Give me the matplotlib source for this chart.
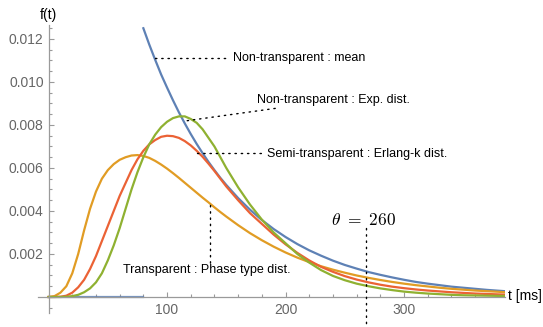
import matplotlib
matplotlib.use('Agg')
import matplotlib.pyplot as plt
from matplotlib.ticker import MultipleLocator, FormatStrFormatter

# ---- data (t in ms, f(t) density) ----
t = [0, 5, 10, 15, 20, 25, 30, 35, 40, 45, 50, 55, 60, 65, 70, 75, 80, 85, 90, 95,
     100, 105, 110, 115, 120, 125, 130, 135, 140, 145, 150,
     160, 170, 180, 190, 200, 210, 220, 230, 240, 250, 260, 270, 280, 290, 300,
     310, 320, 330, 340, 350, 360, 370, 380, 385]

# Transparent : Phase type dist.
phase_type = [0.0, 0.00004, 0.0002, 0.0005, 0.0011, 0.0020, 0.0031, 0.0041, 0.0049,
              0.0055, 0.0059, 0.00618, 0.00638, 0.0065, 0.00658, 0.0066, 0.00656,
              0.00647, 0.00633, 0.00616, 0.00597, 0.00576, 0.00554, 0.00531, 0.00508,
              0.00485, 0.00462, 0.0044, 0.00417, 0.00395, 0.00374,
              0.00334, 0.00297, 0.00264, 0.00234, 0.00207, 0.00183, 0.00162, 0.00143,
              0.00127, 0.00113, 0.0010, 0.00089, 0.00079, 0.0007, 0.00062, 0.00055,
              0.00049, 0.00043, 0.00038, 0.00034, 0.0003, 0.00027, 0.00024, 0.00022]

# Semi-transparent : Erlang-k dist.
erlang = [0.0, 0.0, 0.00001, 0.00006, 0.0002, 0.00045, 0.0008, 0.0013, 0.0019, 0.0026,
          0.0033, 0.0040, 0.0047, 0.0053, 0.0059, 0.0064, 0.0068, 0.0071, 0.0073,
          0.00745, 0.0075, 0.00748, 0.0074, 0.00725, 0.00705, 0.0068, 0.00652, 0.0062,
          0.00586, 0.0055, 0.00514,
          0.0045, 0.0039, 0.0034, 0.0029, 0.00245, 0.00205, 0.0017, 0.0014, 0.00117,
          0.00097, 0.00081, 0.00068, 0.00057, 0.00048, 0.00041, 0.00035, 0.0003,
          0.00026, 0.00022, 0.00019, 0.00016, 0.00014, 0.00012, 0.00011]

# Non-transparent : Exp. dist.
exp_dist = [0.0, 0.0, 0.0, 0.00001, 0.00004, 0.0001, 0.00022, 0.0004, 0.00068, 0.0011,
            0.0017, 0.0024, 0.0032, 0.0041, 0.0050, 0.0058, 0.0065, 0.0071, 0.00755,
            0.0079, 0.00815, 0.00832, 0.0084, 0.0084, 0.00828, 0.0081, 0.0078, 0.0074,
            0.0070, 0.0065, 0.0060,
            0.0051, 0.0043, 0.0036, 0.0030, 0.0025, 0.0020, 0.0016, 0.00125, 0.00098,
            0.00078, 0.00062, 0.0005, 0.0004, 0.00032, 0.00025, 0.0002, 0.00016,
            0.00013, 0.0001, 0.00008, 0.00007, 0.00006, 0.00005, 0.00005]

# Non-transparent : mean (zero up to 80 ms, then decaying)
mean_flat_t = [0, 80]
mean_flat = [0.0, 0.0]
mean_t = [80, 85, 90, 95, 100, 105, 110, 115, 120, 125, 130, 135, 140, 145, 150,
          160, 170, 180, 190, 200, 210, 220, 230, 240, 250, 260, 270, 280, 290, 300,
          310, 320, 330, 340, 350, 360, 370, 380, 385]
mean = [0.0125, 0.01174, 0.01103, 0.01035, 0.00974, 0.00915, 0.00859, 0.00807, 0.00758,
        0.00712, 0.00669, 0.00628, 0.0059, 0.00554, 0.00521,
        0.0046, 0.00406, 0.00358, 0.00316, 0.00279, 0.00246, 0.00217, 0.00192,
        0.00169, 0.00149, 0.00132, 0.00116, 0.00103, 0.00091, 0.0008, 0.0007,
        0.00062, 0.00055, 0.00048, 0.00043, 0.00038, 0.00033, 0.00029, 0.00027]

theta = 268  # position of the theta marker line

BLUE = '#5E81B5'
ORANGE = '#E19C24'
GREEN = '#8FB131'
RED = '#EB6235'


def dotted(ax, xs, ys, clip=True):
    ax.plot(xs, ys, color='black', lw=1.0, linestyle=(0, (1, 3.5)),
            dash_capstyle='round', clip_on=clip, zorder=3)


def main():
    plt.rcParams['font.family'] = ['Liberation Sans', 'DejaVu Sans']
    plt.rcParams['mathtext.fontset'] = 'cm'

    fig = plt.figure(figsize=(5.43, 3.27), dpi=100)
    ax = fig.add_axes([0.0709, 0.0425, 0.8586, 0.881])
    ax.set_xlim(-8.5, 385)
    ax.set_ylim(-0.00075, 0.01265)

    lw = 1.6
    ax.plot(mean_flat_t, mean_flat, color=BLUE, lw=lw, alpha=0.85)
    ax.plot(mean_t, mean, color=BLUE, lw=lw)
    ax.plot(t, phase_type, color=ORANGE, lw=lw)
    ax.plot(t, erlang, color=RED, lw=lw)
    ax.plot(t, exp_dist, color=GREEN, lw=lw)

    # Mathematica-like axes through the origin
    for side in ['top', 'right']:
        ax.spines[side].set_visible(False)
    ax.spines['left'].set_position(('data', 0))
    ax.spines['bottom'].set_position(('data', 0))
    for side in ['left', 'bottom']:
        ax.spines[side].set_color('#9a9a9a')
        ax.spines[side].set_linewidth(0.9)

    ax.set_xticks([100, 200, 300])
    ax.xaxis.set_minor_locator(MultipleLocator(20))
    ax.set_yticks([0.002, 0.004, 0.006, 0.008, 0.010, 0.012])
    ax.yaxis.set_minor_locator(MultipleLocator(0.0005))
    ax.yaxis.set_major_formatter(FormatStrFormatter('%.3f'))
    ax.tick_params(which='both', direction='in', color='#9a9a9a', width=0.8,
                   labelcolor='#666666', labelsize=10)
    ax.tick_params(which='major', length=3.6)
    ax.tick_params(which='minor', length=2.0)
    ax.tick_params(axis='x', pad=4)
    ax.tick_params(axis='y', pad=3.5)

    ax.text(0, 0.01312, 'f(t)', ha='center', va='center', fontsize=10, clip_on=False)
    ax.text(387.5, 0.00005, 't [ms]', ha='left', va='center', fontsize=10, clip_on=False)

    # annotations
    fs = 9
    dotted(ax, [90, 153], [0.0111, 0.0111])
    ax.text(155.5, 0.0111, 'Non-transparent : mean', fontsize=fs, va='center')

    dotted(ax, [117, 195], [0.0082, 0.0088])
    ax.text(176, 0.00916, 'Non-transparent : Exp. dist.', fontsize=fs, va='center')

    dotted(ax, [125.5, 181], [0.0067, 0.0067])
    ax.text(184.5, 0.00667, 'Semi-transparent : Erlang-k dist.', fontsize=fs,
            va='center', clip_on=False)

    dotted(ax, [136.3, 136.3], [0.0043, 0.00158])
    ax.text(63, 0.00126, 'Transparent : Phase type dist.', fontsize=fs, va='center')

    dotted(ax, [theta, theta], [0.0032, -0.0015], clip=False)
    ax.text(266, 0.00358, r'$\theta\ =\ 260$', fontsize=12.5, ha='center', va='center')

    plt.savefig('out.png', dpi=100)


if __name__ == '__main__':
    main()
